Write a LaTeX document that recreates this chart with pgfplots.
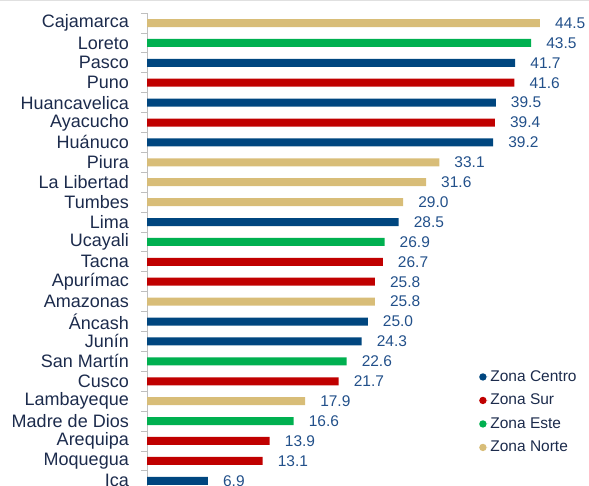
\documentclass[border=0pt]{standalone}
\usepackage{pgfplots}
\pgfplotsset{compat=1.18}
\usepackage{fontspec}
\setmainfont{Liberation Sans}
\definecolor{cBlue}{HTML}{00467F}
\definecolor{cRed}{HTML}{C00000}
\definecolor{cGreen}{HTML}{00B050}
\definecolor{cGold}{HTML}{D8BD78}
\definecolor{catText}{HTML}{1C2B4C}
\definecolor{valText}{HTML}{22508A}
\definecolor{axGray}{HTML}{BFBFBF}
\begin{document}
\begin{tikzpicture}
\clip (0,0) rectangle (589pt,486pt);
\draw[draw=black!12, line width=1pt] (0,485.5pt) -- (589pt,485.5pt);
\begin{axis}[
  at={(147pt,-4.7pt)}, anchor=south west,
  scale only axis, width=441.5pt, height=477.6pt,
  xmin=0, xmax=50, ymin=-0.5, ymax=23.5, y dir=reverse,
  axis x line=none, axis y line*=left,
  axis line style={draw=axGray, line width=0.8pt, -},
  /pgf/number format/assume math mode=true,
  ytick={-0.5,0.5,...,23.5}, yticklabels={},
  tick align=outside, major tick length=6pt,
  ytick style={draw=axGray, line width=0.8pt},
  extra y ticks={0,1,...,23},
  extra y tick labels={Cajamarca,Loreto,Pasco,Puno,Huancavelica,Ayacucho,Hu\'anuco,Piura,La Libertad,Tumbes,Lima,Ucayali,Tacna,Apur\'imac,Amazonas,\'Ancash,Jun\'in,San Mart\'in,Cusco,Lambayeque,Madre de Dios,Arequipa,Moquegua,Ica},
  extra y tick style={major tick length=0pt, ytick style={draw=none},
     yticklabel style={inner sep=0pt, xshift=-18pt, font=\fontsize{18}{20}\selectfont, text=catText}},
  xbar, bar width=8pt,
  point meta=x,
  nodes near coords={\pgfmathprintnumber[fixed,fixed zerofill,precision=1]{\pgfplotspointmeta}},
  every node near coord/.append style={anchor=west, inner sep=0pt, xshift=15pt, font=\fontsize{15.5}{17}\selectfont, text=valText},
  clip=false,
  legend image code/.code={\fill[#1] (0pt,0pt) circle (3.7pt); \path (-3.7pt,0pt) -- (5.5pt,0pt);},
  legend cell align=left,
  legend style={draw=none, fill=none, at={(0.752,0.259)}, anchor=north west,
     font=\fontsize{15.5}{17}\selectfont, text=catText, row sep=4pt, inner sep=0pt,
     nodes={text height=12pt, text depth=3.5pt, inner sep=2pt}},
]
\addplot[draw=none, fill=cBlue, bar shift=0pt] coordinates {(41.7,2) (39.5,4) (39.2,6) (28.5,10) (25.0,15) (24.3,16) (6.9,23)};
\addplot[draw=none, fill=cRed, bar shift=0pt] coordinates {(41.6,3) (39.4,5) (26.7,12) (25.8,13) (21.7,18) (13.9,21) (13.1,22)};
\addplot[draw=none, fill=cGreen, bar shift=0pt] coordinates {(43.5,1) (26.9,11) (22.6,17) (16.6,20)};
\addplot[draw=none, fill=cGold, bar shift=0pt] coordinates {(44.5,0) (33.1,7) (31.6,8) (29.0,9) (25.8,14) (17.9,19)};
\legend{Zona Centro, Zona Sur, Zona Este, Zona Norte}
\end{axis}
\end{tikzpicture}
\end{document}
